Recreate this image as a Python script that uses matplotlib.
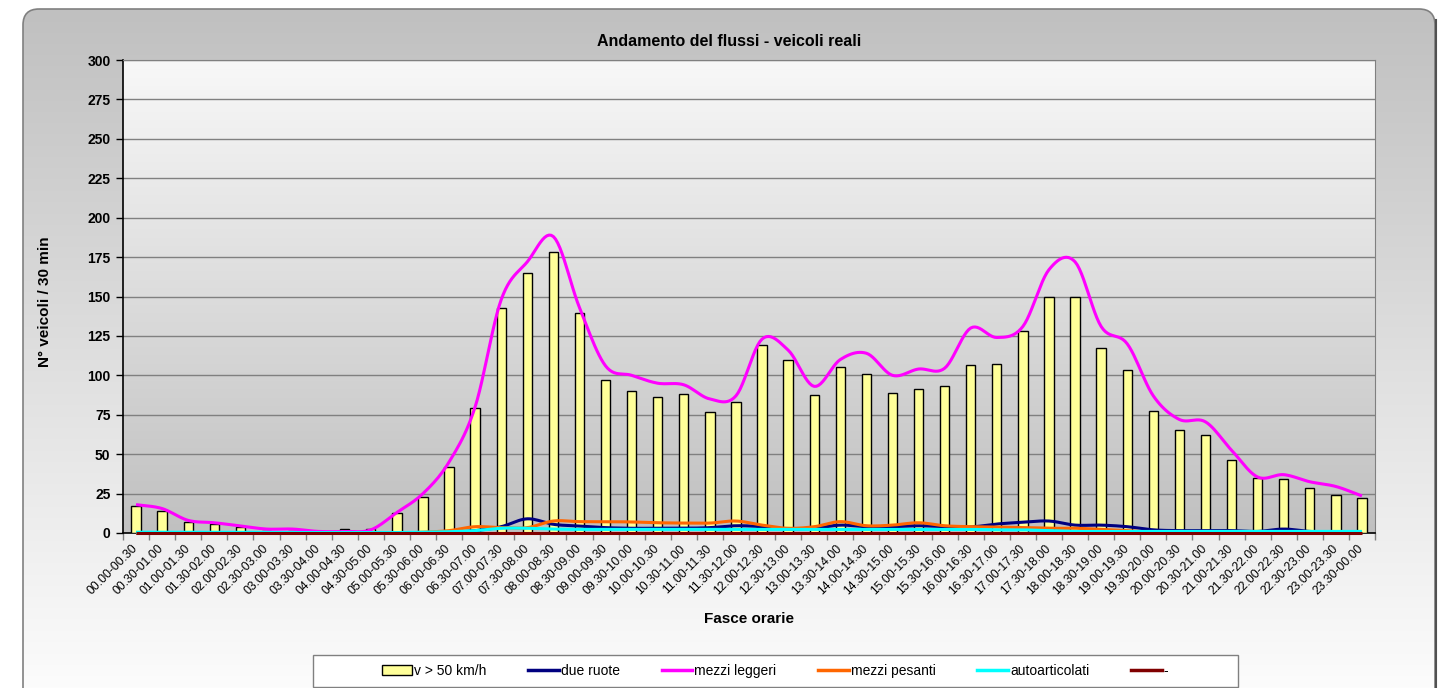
import numpy as np
import matplotlib.pyplot as plt
from matplotlib.patches import FancyBboxPatch, Rectangle
from matplotlib.lines import Line2D

plt.rcParams['font.family'] = ['Liberation Sans', 'DejaVu Sans']

# fasce orarie (48 mezz'ore)
fasce = ['00.00-00.30', '00.30-01.00', '01.00-01.30', '01.30-02.00', '02.00-02.30', '02.30-03.00',
         '03.00-03.30', '03.30-04.00', '04.00-04.30', '04.30-05.00', '05.00-05.30', '05.30-06.00',
         '06.00-06.30', '06.30-07.00', '07.00-07.30', '07.30-08.00', '08.00-08.30', '08.30-09.00',
         '09.00-09.30', '09.30-10.00', '10.00-10.30', '10.30-11.00', '11.00-11.30', '11.30-12.00',
         '12.00-12.30', '12.30-13.00', '13.00-13.30', '13.30-14.00', '14.00-14.30', '14.30-15.00',
         '15.00-15.30', '15.30-16.00', '16.00-16.30', '16.30-17.00', '17.00-17.30', '17.30-18.00',
         '18.00-18.30', '18.30-19.00', '19.00-19.30', '19.30-20.00', '20.00-20.30', '20.30-21.00',
         '21.00-21.30', '21.30-22.00', '22.00-22.30', '22.30-23.00', '23.00-23.30', '23.30-00.00']

v_50 = [17, 14, 7, 5.5, 4, 1, 1, 0.5, 2.7, 2.5, 12.5, 23, 42, 79, 142.5, 165, 178.5, 139.5,
        97, 90, 86.5, 88, 76.5, 83, 119, 109.5, 87.5, 105, 101, 88.5, 91.5, 93, 106.5, 107.5,
        128, 149.5, 150, 117.5, 103.5, 77.5, 65.5, 62, 46, 35, 34.5, 28.5, 24, 22]

due_ruote = [0, 0, 0, 0, 0, 0, 0, 0, 0, 0, 0, 0.3, 0.5, 1.5, 4, 9, 5.5, 4.4, 3.4, 3, 3, 3, 3.4, 4.6,
             4, 2.5, 3, 5, 4, 4, 4.6, 4, 3.8, 5.7, 6.8, 7.6, 5, 5, 4, 2, 1.5, 1.5, 1.5, 1, 2.5, 1,
             0.5, 0.5]

mezzi_leggeri = [18, 15.5, 8, 6.5, 4.5, 2.5, 2.5, 1, 1, 2, 13, 25, 45, 80, 148, 172, 188, 143,
                 106, 100, 95, 94, 85, 87, 123, 116, 93, 110, 114, 100, 104, 104.5, 130, 124,
                 131, 167, 172, 131, 120, 87, 72, 70.5, 52.5, 35.5, 37, 32.5, 29.5, 23.5]

mezzi_pesanti = [0, 0, 0, 0, 0, 0, 0, 0, 0, 0, 0, 0.5, 1.5, 4, 3.4, 3.4, 7.6, 7.2, 7.2, 7, 6.5,
                 6.3, 6.3, 7.6, 5, 3, 4, 7.2, 4.6, 5, 6.5, 4.6, 4, 3.8, 3.4, 3, 3, 2.3, 1.5, 0.5,
                 0.5, 0.5, 0.5, 0.5, 0.5, 0.5, 0.5, 0.5]

autoarticolati = [0.5, 0.5, 0.5, 0.5, 0.5, 0.3, 0.3, 0.3, 0.3, 0.3, 0.3, 0.5, 0.8, 1.5, 3, 3,
                  2.5, 2.3, 2.3, 2.3, 2.3, 2.3, 2.3, 2.3, 2.3, 2.3, 2.3, 2.3, 2.3, 2.3, 2.3, 2.3,
                  2.3, 2, 2, 1.5, 1, 1, 1, 1, 1, 1, 1, 1, 1, 1, 1, 1]

trattino = [0] * 48

serie = [('due ruote', due_ruote, '#000080'),
         ('mezzi leggeri', mezzi_leggeri, '#ff00ff'),
         ('mezzi pesanti', mezzi_pesanti, '#ff6600'),
         ('autoarticolati', autoarticolati, '#00ffff'),
         ('-', trattino, '#800000')]


def smooth(x, y, n=12):
    # catmull-rom, come la linea "smussata" di Excel
    x = np.asarray(x, float)
    y = np.asarray(y, float)
    px = np.concatenate([[2 * x[0] - x[1]], x, [2 * x[-1] - x[-2]]])
    py = np.concatenate([[2 * y[0] - y[1]], y, [2 * y[-1] - y[-2]]])
    t = np.linspace(0, 1, n, endpoint=False)
    xs, ys = [], []
    for i in range(1, len(px) - 2):
        for p, out in ((px, xs), (py, ys)):
            p0, p1, p2, p3 = p[i - 1], p[i], p[i + 1], p[i + 2]
            out.extend(0.5 * (2 * p1 + (-p0 + p2) * t + (2 * p0 - 5 * p1 + 4 * p2 - p3) * t ** 2
                              + (-p0 + 3 * p1 - 3 * p2 + p3) * t ** 3))
    xs.append(x[-1])
    ys.append(y[-1])
    return np.array(xs), np.array(ys)


W, H = 1450, 688
fig = plt.figure(figsize=(W / 100, H / 100), dpi=100)
fig.patch.set_facecolor('white')

# sfondo area grafico
bg = fig.add_axes([0, 0, 1, 1])
bg.set_xlim(0, W)
bg.set_ylim(H, 0)
bg.axis('off')
box = FancyBboxPatch((23, 9), 1412, 700, boxstyle='round,pad=0,rounding_size=16',
                     fc='none', ec='#808080', lw=1.2, zorder=3)
bg.add_patch(box)
grad = np.linspace(0, 1, 256).reshape(-1, 1)
im = bg.imshow(grad, cmap=plt.matplotlib.colors.LinearSegmentedColormap.from_list(
    'g', ['#c0c0c0', '#fdfdfd']), extent=[23, 1435, 700, 9], aspect='auto', zorder=1)
im.set_clip_path(box)
bg.plot([1436, 1436], [20, H], color='#505050', lw=1.5, zorder=4)

# legenda (cornice)
bg.add_patch(Rectangle((313, 655), 925, 32, fc='white', ec='#808080', lw=1, zorder=5))

L, R, T, B = 123, 1375, 60, 533
ax = fig.add_axes([L / W, (H - B) / H, (R - L) / W, (B - T) / H])
ax.patch.set_visible(False)
ax.imshow(grad, cmap=plt.matplotlib.colors.LinearSegmentedColormap.from_list(
    'p', ['#f8f8f8', '#c0c0c0']), extent=[0, 1, 0, 1], transform=ax.transAxes,
    aspect='auto', zorder=0)

x = np.arange(len(fasce))
ax.bar(x, v_50, width=0.36, color='#ffff99', edgecolor='black', lw=1, zorder=3,
       label='v > 50 km/h')
for nome, vals, col in serie:
    sx, sy = smooth(x, vals)
    ax.plot(sx, sy, color=col, lw=2.2, zorder=4, label=nome, solid_capstyle='butt',
            clip_on=False)

ax.set_xlim(-0.5, len(fasce) - 0.5)
ax.set_ylim(0, 300)
ax.set_yticks(np.arange(0, 301, 25))
ax.yaxis.grid(True, color='#808080', lw=1)
ax.set_axisbelow(True)
ax.tick_params(axis='y', labelsize=10, length=5, width=1, color='black', pad=4)
for lab in ax.get_yticklabels():
    lab.set_fontweight('bold')

ax.set_xticks(x)
ax.set_xticklabels(fasce, rotation=45, ha='right', va='center', rotation_mode='anchor',
                   fontsize=8.7)
ax.set_xticks(np.arange(-0.5, len(fasce), 1), minor=True)
ax.tick_params(axis='x', which='major', length=0, pad=10)
ax.tick_params(axis='x', which='minor', length=5, width=1, color='#808080')

for s in ['top', 'right']:
    ax.spines[s].set_color('#808080')
for s in ['left', 'bottom']:
    ax.spines[s].set_color('black')
    ax.spines[s].set_linewidth(1.2)

fig.text(729 / W, 1 - 42 / H, 'Andamento del flussi - veicoli reali', ha='center', va='center',
         fontsize=11.5, fontweight='bold')
fig.text(749 / W, 1 - 619 / H, 'Fasce orarie', ha='center', va='center', fontsize=11,
         fontweight='bold')
fig.text(45 / W, 1 - 302 / H, 'N° veicoli / 30 min', ha='center', va='center', fontsize=11,
         fontweight='bold', rotation=90)

handles = [Rectangle((0, 0), 1, 1, fc='#ffff99', ec='black', lw=1)]
handles += [Line2D([], [], color=c, lw=2.5) for _, _, c in serie]
labels = ['v > 50 km/h'] + [n for n, _, _ in serie]
leg = fig.legend(handles, labels, ncol=6, loc='center', bbox_to_anchor=(775 / W, 1 - 671 / H),
                 frameon=False, fontsize=10, handlelength=2.2, handletextpad=0.15,
                 columnspacing=3.0, handleheight=0.7)
leg.set_zorder(10)

fig.savefig('out.png', dpi=100, facecolor='white')
